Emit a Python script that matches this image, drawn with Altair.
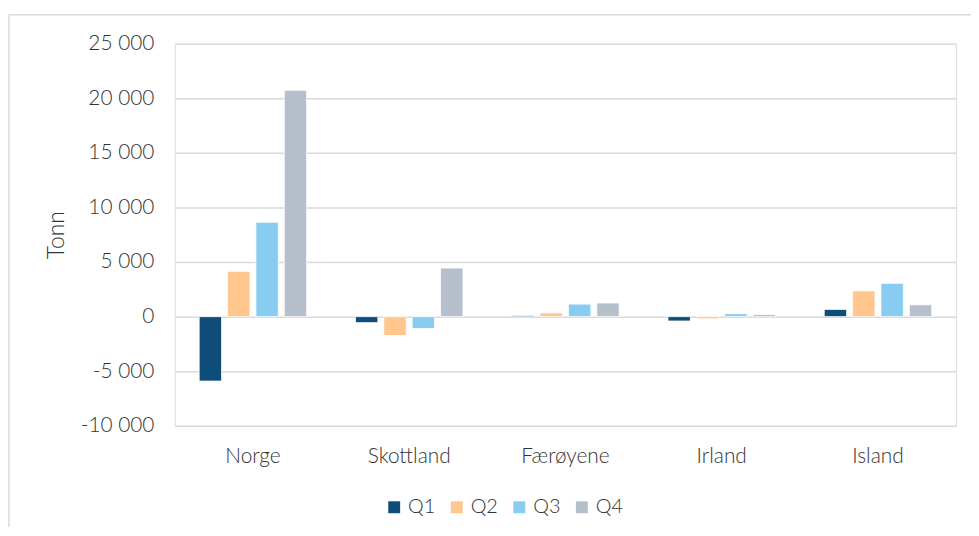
import altair as alt
import pandas as pd

categories = ["Norge", "Skottland", "Færøyene", "Irland", "Island"]
quarters = ["Q1", "Q2", "Q3", "Q4"]
q1 = [-5900, -550, 100, -400, 660]
q2 = [4150, -1730, 340, -200, 2360]
q3 = [8640, -1090, 1150, 270, 3050]
q4 = [20730, 4450, 1250, 200, 1090]
colors = ["#0e4c7a", "#ffc68e", "#88ccf1", "#b6c0cc"]
y_ticks = [-10000, -5000, 0, 5000, 10000, 15000, 20000, 25000]

rows = []
for q, vals in zip(quarters, [q1, q2, q3, q4]):
    for c, v in zip(categories, vals):
        rows.append({"Land": c, "Kvartal": q, "Tonn": v})
df = pd.DataFrame(rows)

FONT = "Lato"
FS = 21
W, H = 787, 385
one = pd.DataFrame({"a": [0]})

top_line = alt.Chart(one).mark_rule(stroke="#d9d9d9", strokeWidth=1.5).encode(
    x=alt.value(-167), x2=alt.value(W + 40), y=alt.value(-29)
)
left_line = alt.Chart(one).mark_rule(stroke="#d9d9d9", strokeWidth=1.5).encode(
    x=alt.value(-167), y=alt.value(-29), y2=alt.value(H + 200)
)

bars = alt.Chart(df).mark_bar(stroke="white", strokeWidth=0.8).encode(
    x=alt.X("Land:N", sort=categories,
            scale=alt.Scale(paddingInner=0, paddingOuter=0),
            axis=alt.Axis(title=None, labelAngle=0, domain=False, ticks=False,
                          labelPadding=20, labelFontSize=FS, labelFont=FONT,
                          labelFontWeight=300,
                          labelColor="#333333", grid=False)),
    xOffset=alt.XOffset("Kvartal:N", sort=quarters,
                        scale=alt.Scale(paddingInner=0.21, paddingOuter=0.86)),
    y=alt.Y("Tonn:Q",
            scale=alt.Scale(domain=[-10000, 25000], nice=False),
            axis=alt.Axis(values=y_ticks, title="Tonn", domain=False, ticks=False,
                          labelPadding=21, labelFontSize=FS, labelFont=FONT,
                          labelFontWeight=300,
                          labelColor="#333333",
                          labelExpr="(datum.value < 0 ? '-' : '') + replace(format(abs(datum.value), ','), ',', ' ')",
                          titleFont=FONT, titleFontSize=23, titleFontWeight=300,
                          titleColor="#333333", titleX=-119, titleY=H / 2,
                          titleAngle=-90, titleAlign="center", titleBaseline="middle",
                          gridColor="#d9d9d9", gridWidth=1.5)),
    color=alt.Color("Kvartal:N", sort=quarters,
                    scale=alt.Scale(domain=quarters, range=colors),
                    legend=alt.Legend(title=None, orient="none", direction="horizontal",
                                      legendX=211, legendY=457, symbolType="square",
                                      symbolSize=144, symbolStrokeWidth=0,
                                      labelFont=FONT, labelFontSize=FS - 1,
                                      labelFontWeight=300,
                                      labelColor="#333333", labelOffset=4,
                                      columnPadding=11, columns=4)),
)

chart = alt.layer(top_line, left_line, bars).properties(
    width=W, height=H,
    autosize=alt.AutoSizeParams(type="none"),
    padding={"left": 168, "top": 34, "right": 15, "bottom": 100},
).configure_view(stroke=None).configure(background="white")

chart.save("out.html", embed_options={"renderer": "svg", "actions": False})
